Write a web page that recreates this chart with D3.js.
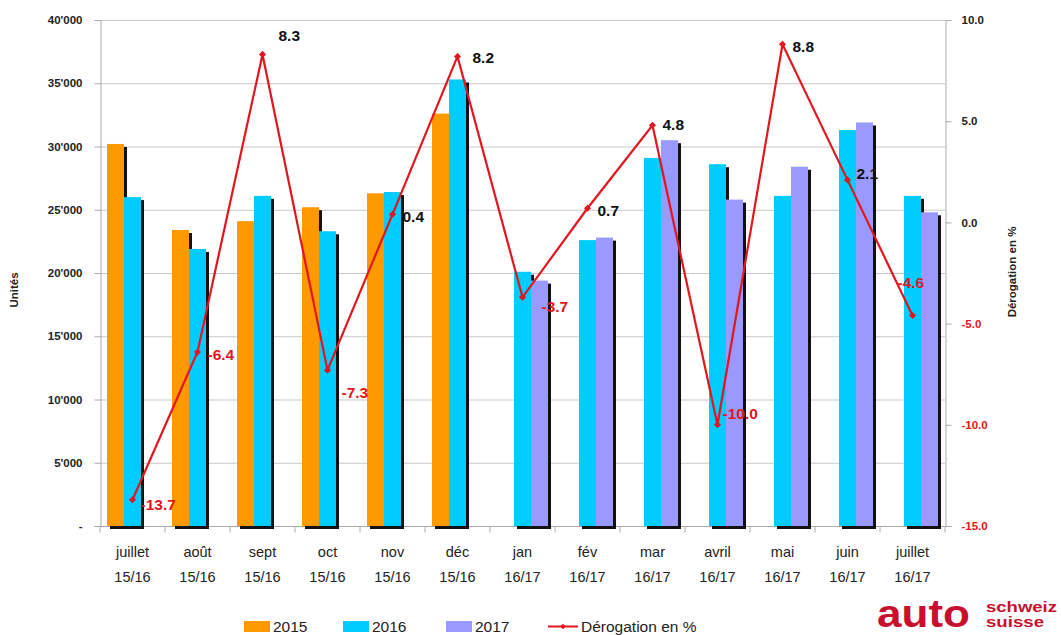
<!DOCTYPE html>
<html>
<head>
<meta charset="utf-8">
<script src="https://cdn.jsdelivr.net/npm/d3@7"></script>
<style>
    body { margin: 0; background: #fff; }
    text { font-family: "Liberation Sans", Arial, sans-serif; }
</style>
</head>
<body>
<svg id="mainSvg" width="1061" height="635"></svg>
<script>
// categories and series
let months = ["juillet", "août", "sept", "oct", "nov", "déc", "jan", "fév", "mar", "avril", "mai", "juin", "juillet"];
let periods = ["15/16", "15/16", "15/16", "15/16", "15/16", "15/16", "16/17", "16/17", "16/17", "16/17", "16/17", "16/17", "16/17"];
let years = ["2015", "2016", "2017"];

let units2015 = [30200, 23400, 24100, 25200, 26300, 32600, null, null, null, null, null, null, null];
let units2016 = [26000, 21900, 26100, 23300, 26400, 35300, 20100, 22600, 29100, 28600, 26100, 31300, 26100];
let units2017 = [null, null, null, null, null, null, 19400, 22800, 30500, 25800, 28400, 31900, 24800];

let derogation = [-13.7, -6.4, 8.3, -7.3, 0.4, 8.2, -3.7, 0.7, 4.8, -10.0, 8.8, 2.1, -4.6];

let leftTicks = [0, 5000, 10000, 15000, 20000, 25000, 30000, 35000, 40000];
let rightTicks = [-15, -10, -5, 0, 5, 10];

// label nudges for the percentage labels (dx, dy from point)
let labelNudge = [[8, 5], [10, 3], [16, -19], [14, 22], [10, 2], [15, 1], [19, 9], [10, 2], [10, -1], [5, -11], [10, 2], [9, -6], [-15, -33]];

let colors = { "2015": "#ff9900", "2016": "#00ccff", "2017": "#9999ff" };
let red = "#e3151e";

let svg = d3.select("#mainSvg");
let plotLeft = 100, plotRight = 945, plotTop = 20, plotBottom = 526;

let cats = months.map((m, i) => i);
let x = d3.scaleBand().domain(cats).range([plotLeft, plotRight]);
let xs = d3.scaleBand().domain(years).range([7, 58]);
let y = d3.scaleLinear().domain([0, 40000]).range([plotBottom, plotTop]);
let y2 = d3.scaleLinear().domain([-15, 10]).range([plotBottom, plotTop]);

let loc = d3.formatLocale({ decimal: ".", thousands: "'", grouping: [3], currency: ["", ""], minus: "-" });
let fmt = loc.format(",");
let fmt1 = loc.format(".1f");

// gridlines
let grid = svg.append("g");
grid.selectAll("line")
    .data(leftTicks)
    .join("line")
    .attr("x1", plotLeft)
    .attr("x2", plotRight)
    .attr("y1", (d) => y(d) + 0.5)
    .attr("y2", (d) => y(d) + 0.5)
    .attr("stroke", "#c8c8c8")
    .attr("stroke-width", 1.2);

// left axis
let yAxis = svg.append("g")
    .attr("transform", `translate(${plotLeft + 0.5},0)`)
    .call(d3.axisLeft(y).tickValues(leftTicks).tickSize(6).tickPadding(12)
        .tickFormat((d) => (d === 0 ? "-" : fmt(d))));
yAxis.select(".domain").attr("stroke", "#aaa");
yAxis.selectAll(".tick line").attr("stroke", "#aaa");
yAxis.selectAll("text")
    .attr("font-size", 11.5)
    .attr("font-weight", "bold")
    .attr("fill", "#222");

// right axis
let y2Axis = svg.append("g")
    .attr("transform", `translate(${plotRight + 0.5},0)`)
    .call(d3.axisRight(y2).tickValues(rightTicks).tickSize(6).tickPadding(10)
        .tickFormat(fmt1));
y2Axis.select(".domain").attr("stroke", "#aaa");
y2Axis.selectAll(".tick line").attr("stroke", "#aaa");
y2Axis.selectAll("text")
    .attr("font-size", 11.5)
    .attr("font-weight", "bold")
    .attr("fill", (d) => (d < 0 ? red : "#222"));

// x axis
let xAxis = svg.append("g")
    .attr("transform", `translate(0,${plotBottom + 0.5})`);
xAxis.append("line")
    .attr("x1", plotLeft).attr("x2", plotRight)
    .attr("stroke", "#aaa");
xAxis.selectAll("line.tk")
    .data(d3.range(months.length + 1))
    .join("line")
    .attr("class", "tk")
    .attr("x1", (d) => plotLeft + d * x.bandwidth())
    .attr("x2", (d) => plotLeft + d * x.bandwidth())
    .attr("y1", 0).attr("y2", 6)
    .attr("stroke", "#aaa");
let xl = xAxis.selectAll("text")
    .data(cats)
    .join("text")
    .attr("x", (d) => x(d) + x.bandwidth() / 2)
    .attr("text-anchor", "middle")
    .attr("font-size", 14.5)
    .attr("fill", "#222");
xl.append("tspan").attr("x", (d) => x(d) + x.bandwidth() / 2).attr("y", 30).text((d) => months[d]);
xl.append("tspan").attr("x", (d) => x(d) + x.bandwidth() / 2).attr("y", 55).text((d) => periods[d]);

// bars with shadow
let series = { "2015": units2015, "2016": units2016, "2017": units2017 };
let barData = [];
cats.forEach((c) => {
    years.forEach((yr) => {
        let v = series[yr][c];
        if (v !== null) barData.push({ c: c, yr: yr, v: v });
    });
});

let bars = svg.append("g");
barData.forEach((d) => {
    let bx = x(d.c) + xs(d.yr);
    let by = y(d.v);
    bars.append("rect")
        .attr("x", bx + 3)
        .attr("y", by + 3)
        .attr("width", xs.bandwidth())
        .attr("height", plotBottom - by)
        .attr("fill", "#111");
    bars.append("rect")
        .attr("x", bx)
        .attr("y", by)
        .attr("width", xs.bandwidth())
        .attr("height", plotBottom - by)
        .attr("fill", colors[d.yr]);
});

// derogation line
let cx = (i) => x(i) + x.bandwidth() / 2;
let line = d3.line()
    .x((d, i) => cx(i))
    .y((d) => y2(d));

let lg = svg.append("g");
lg.append("path")
    .datum(derogation)
    .attr("d", line)
    .attr("fill", "none")
    .attr("stroke", red)
    .attr("stroke-width", 2.2);
lg.selectAll("rect")
    .data(derogation)
    .join("rect")
    .attr("x", (d, i) => cx(i) - 2.5)
    .attr("y", (d) => y2(d) - 2.5)
    .attr("width", 5)
    .attr("height", 5)
    .attr("fill", red)
    .attr("transform", (d, i) => `rotate(45,${cx(i)},${y2(d)})`);

lg.selectAll("text")
    .data(derogation)
    .join("text")
    .attr("x", (d, i) => cx(i) + labelNudge[i][0])
    .attr("y", (d, i) => y2(d) + labelNudge[i][1])
    .attr("dy", "0.35em")
    .attr("font-size", 15.5)
    .attr("font-weight", "bold")
    .attr("fill", (d) => (d < 0 ? red : "#111"))
    .text((d) => fmt1(d));

// axis titles
svg.append("text")
    .attr("transform", "translate(18,290) rotate(-90)")
    .attr("text-anchor", "middle")
    .attr("font-size", 11.5)
    .attr("font-weight", "bold")
    .attr("fill", "#222")
    .text("Unités");

svg.append("text")
    .attr("transform", "translate(1016,272) rotate(-90)")
    .attr("text-anchor", "middle")
    .attr("font-size", 11.5)
    .attr("font-weight", "bold")
    .attr("fill", "#222")
    .text("Dérogation en %");

// legend
let legendItems = [
    { key: "2015", x: 244 },
    { key: "2016", x: 343 },
    { key: "2017", x: 446 },
];
let leg = svg.append("g");
legendItems.forEach((d) => {
    leg.append("rect")
        .attr("x", d.x).attr("y", 621)
        .attr("width", 26).attr("height", 11)
        .attr("fill", colors[d.key]);
    leg.append("text")
        .attr("x", d.x + 29).attr("y", 632)
        .attr("font-size", 15.5)
        .attr("fill", "#222")
        .text(d.key);
});
leg.append("line")
    .attr("x1", 548).attr("x2", 578)
    .attr("y1", 626.5).attr("y2", 626.5)
    .attr("stroke", red).attr("stroke-width", 2);
leg.append("rect")
    .attr("x", 561).attr("y", 624.5).attr("width", 4).attr("height", 4)
    .attr("fill", red)
    .attr("transform", "rotate(45,563,626.5)");
leg.append("text")
    .attr("x", 581).attr("y", 632)
    .attr("font-size", 15.5)
    .attr("fill", "#222")
    .text("Dérogation en %");

// logo
let logo = svg.append("g").attr("fill", "#c8102e").attr("font-weight", "bold");
logo.append("text")
    .attr("x", 877).attr("y", 627)
    .attr("font-size", 38)
    .attr("font-family", "'DejaVu Sans', sans-serif")
    .attr("textLength", 93)
    .attr("lengthAdjust", "spacingAndGlyphs")
    .text("auto");
logo.append("text")
    .attr("x", 986).attr("y", 612)
    .attr("font-size", 15)
    .attr("textLength", 71)
    .attr("lengthAdjust", "spacingAndGlyphs")
    .text("schweiz");
logo.append("text")
    .attr("x", 986).attr("y", 627)
    .attr("font-size", 15)
    .attr("textLength", 58)
    .attr("lengthAdjust", "spacingAndGlyphs")
    .text("suisse");
</script>
</body>
</html>
